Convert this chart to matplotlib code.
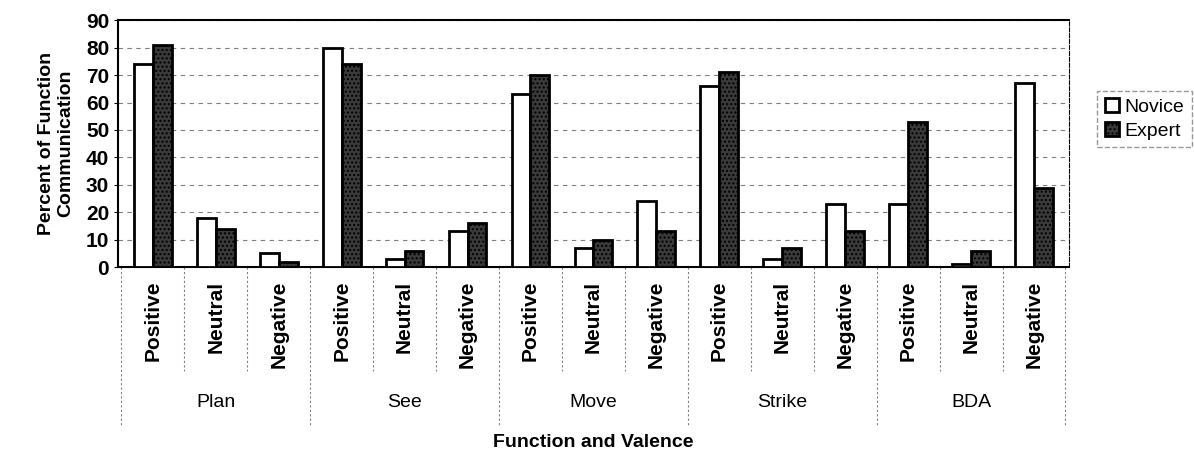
import numpy as np
import matplotlib.pyplot as plt
from matplotlib.transforms import blended_transform_factory

plt.rcParams['font.family'] = ['Liberation Sans', 'DejaVu Sans']

# Daten
functions = ['Plan', 'See', 'Move', 'Strike', 'BDA']
valences = ['Positive', 'Neutral', 'Negative']
novice = [74, 18, 5, 80, 3, 13, 63, 7, 24, 66, 3, 23, 23, 1, 67]
expert = [81, 14, 2, 74, 6, 16, 70, 10, 13, 71, 7, 13, 53, 6, 29]

fig = plt.figure(figsize=(11.94, 4.59), dpi=100)
ax = fig.add_axes([0.099, 0.418, 0.796, 0.538])

x = np.arange(len(novice))
w = 0.3
ax.bar(x - w / 2, novice, w, color='white', edgecolor='black', linewidth=2, label='Novice', zorder=3)
ax.bar(x + w / 2, expert, w, color='#3a3a3a', edgecolor='black', linewidth=2, hatch='....', label='Expert', zorder=3)

ax.set_xlim(-0.55, len(novice) - 0.45)
ax.set_ylim(0, 90)
ax.set_yticks(range(0, 91, 10))
ax.tick_params(axis='y', labelsize=15, length=3)
for t in ax.get_yticklabels():
    t.set_fontweight('bold')
ax.set_xticks([])
ax.yaxis.grid(True, linestyle=(0, (4, 4)), color='gray', linewidth=0.8, zorder=0)
for s in ax.spines.values():
    s.set_linewidth(1.5)
ax.spines['right'].set_linewidth(0.8)
ax.spines['right'].set_linestyle('--')

ax.set_ylabel('Percent of Function\nCommunication', fontsize=14, fontweight='bold', labelpad=8)

# Achsenbeschriftungen unten
tr = blended_transform_factory(ax.transData, ax.transAxes)
for i in range(len(novice)):
    ax.text(i, -0.055, valences[i % 3], rotation=90, ha='center', va='top',
            fontsize=15, fontweight='bold', transform=tr, clip_on=False)
for g, name in enumerate(functions):
    ax.text(g * 3 + 1, -0.55, name, ha='center', va='center', fontsize=14,
            transform=tr, clip_on=False)
for i in range(len(novice) + 1):
    bottom = -0.64 if i % 3 == 0 else -0.42
    ax.plot([i - 0.5, i - 0.5], [0, bottom], color='gray', linestyle=(0, (2, 2)),
            linewidth=0.8, transform=tr, clip_on=False)

fig.text(0.497, 0.035, 'Function and Valence', ha='center', va='center',
         fontsize=14, fontweight='bold')

leg = ax.legend(loc='center left', bbox_to_anchor=(1.02, 0.6), fontsize=14,
                frameon=True, fancybox=False, handlelength=0.7, handletextpad=0.3,
                borderpad=0.4, labelspacing=0.3)
leg.get_frame().set_edgecolor('gray')
leg.get_frame().set_linestyle('--')

fig.savefig('out.png', dpi=100)
